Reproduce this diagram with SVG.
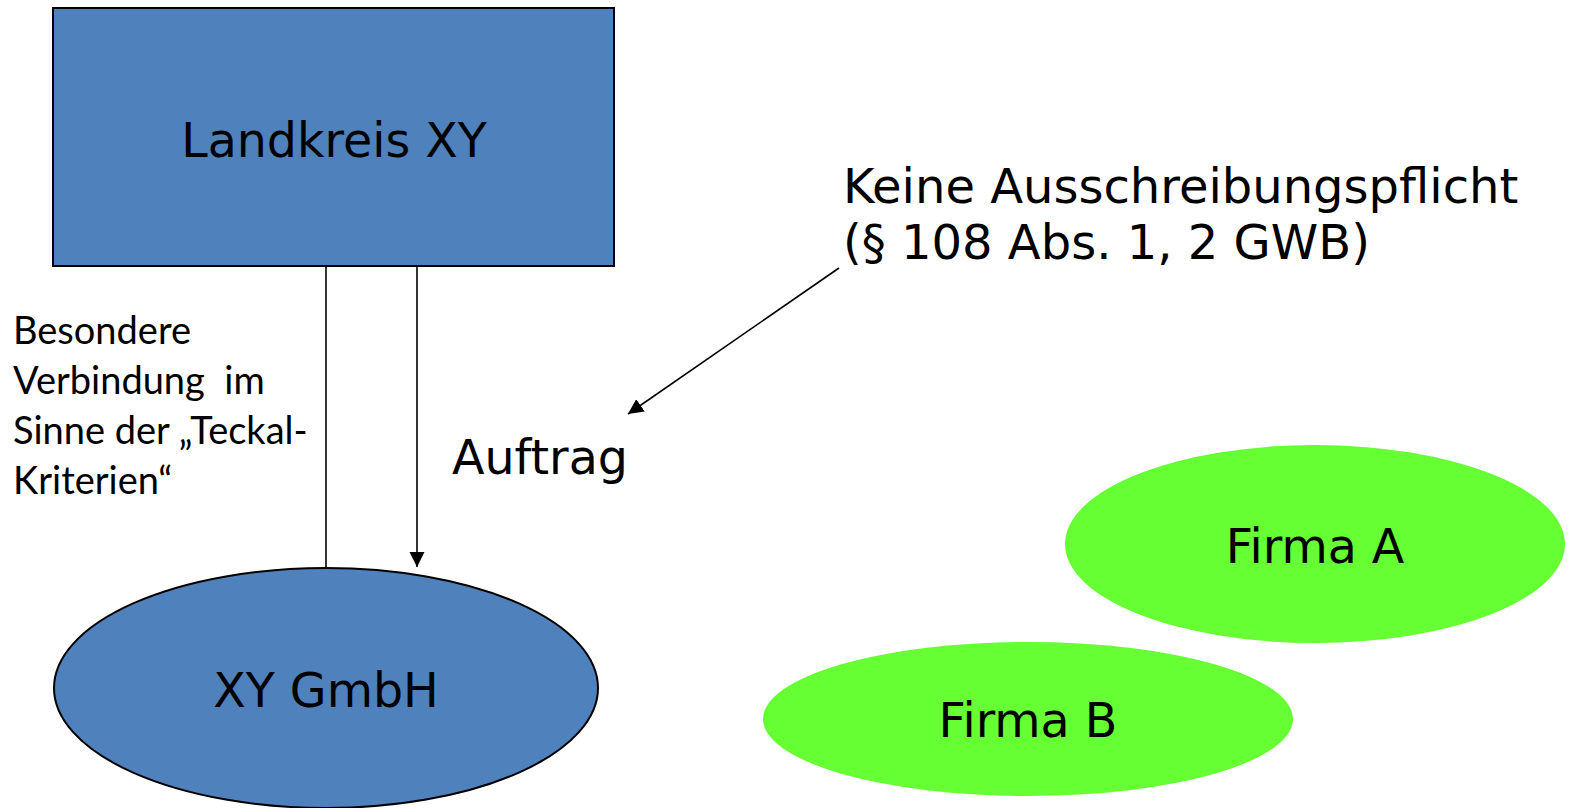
<svg xmlns="http://www.w3.org/2000/svg" width="1572" height="808" viewBox="0 0 1572 808">
<style>
.big{font-family:"DejaVu Sans",Verdana,sans-serif;font-size:47.5px;fill:#000}
.note{font-family:"DejaVu Sans",Verdana,sans-serif;font-size:48px;fill:#000}
.small{font-family:Lato,"Liberation Sans",sans-serif;font-size:38px;fill:#000}
.blue{fill:#4F81BD;stroke:#000;stroke-width:2}
.green{fill:#66FF33;stroke:none}
.conn{stroke:#000;stroke-width:1.6;fill:none}
</style>
<defs>
<marker id="arr" viewBox="0 0 10 10" refX="10" refY="5" markerWidth="9.5" markerHeight="9.5" markerUnits="strokeWidth" orient="auto">
<path d="M0,0 L10,5 L0,10 z" fill="#000"/>
</marker>
</defs>
<rect width="1572" height="808" fill="#fff"/>
<g id="landkreis">
<rect class="blue" x="53" y="8" width="561" height="258"/>
<text class="big" x="334" y="157" text-anchor="middle">Landkreis XY</text>
</g>
<g id="gmbh">
<ellipse class="blue" cx="326" cy="688" rx="272" ry="120"/>
<text class="big" x="326" y="707" text-anchor="middle">XY GmbH</text>
</g>
<g id="firmaA">
<ellipse class="green" cx="1315" cy="544" rx="250" ry="99"/>
<text class="big" x="1315" y="563" text-anchor="middle">Firma A</text>
</g>
<g id="firmaB">
<ellipse class="green" cx="1028" cy="719" rx="265" ry="77"/>
<text class="big" x="1028" y="737" text-anchor="middle">Firma B</text>
</g>
<g id="connectors">
<line class="conn" x1="326" y1="266" x2="326" y2="568"/>
<line class="conn" x1="417" y1="266" x2="417" y2="567" marker-end="url(#arr)"/>
<line class="conn" x1="839" y1="268" x2="628" y2="414" marker-end="url(#arr)"/>
</g>
<g id="labels">
<text class="note" x="843" y="203">Keine Ausschreibungspflicht</text>
<text class="note" x="843" y="259">(§ 108 Abs. 1, 2 GWB)</text>
<text class="big" x="452" y="474">Auftrag</text>
<text class="small" x="13" y="344">Besondere</text>
<text class="small" x="13" y="394" xml:space="preserve">Verbindung  im</text>
<text class="small" x="13" y="444">Sinne der „Teckal-</text>
<text class="small" x="13" y="494">Kriterien“</text>
</g>
</svg>
